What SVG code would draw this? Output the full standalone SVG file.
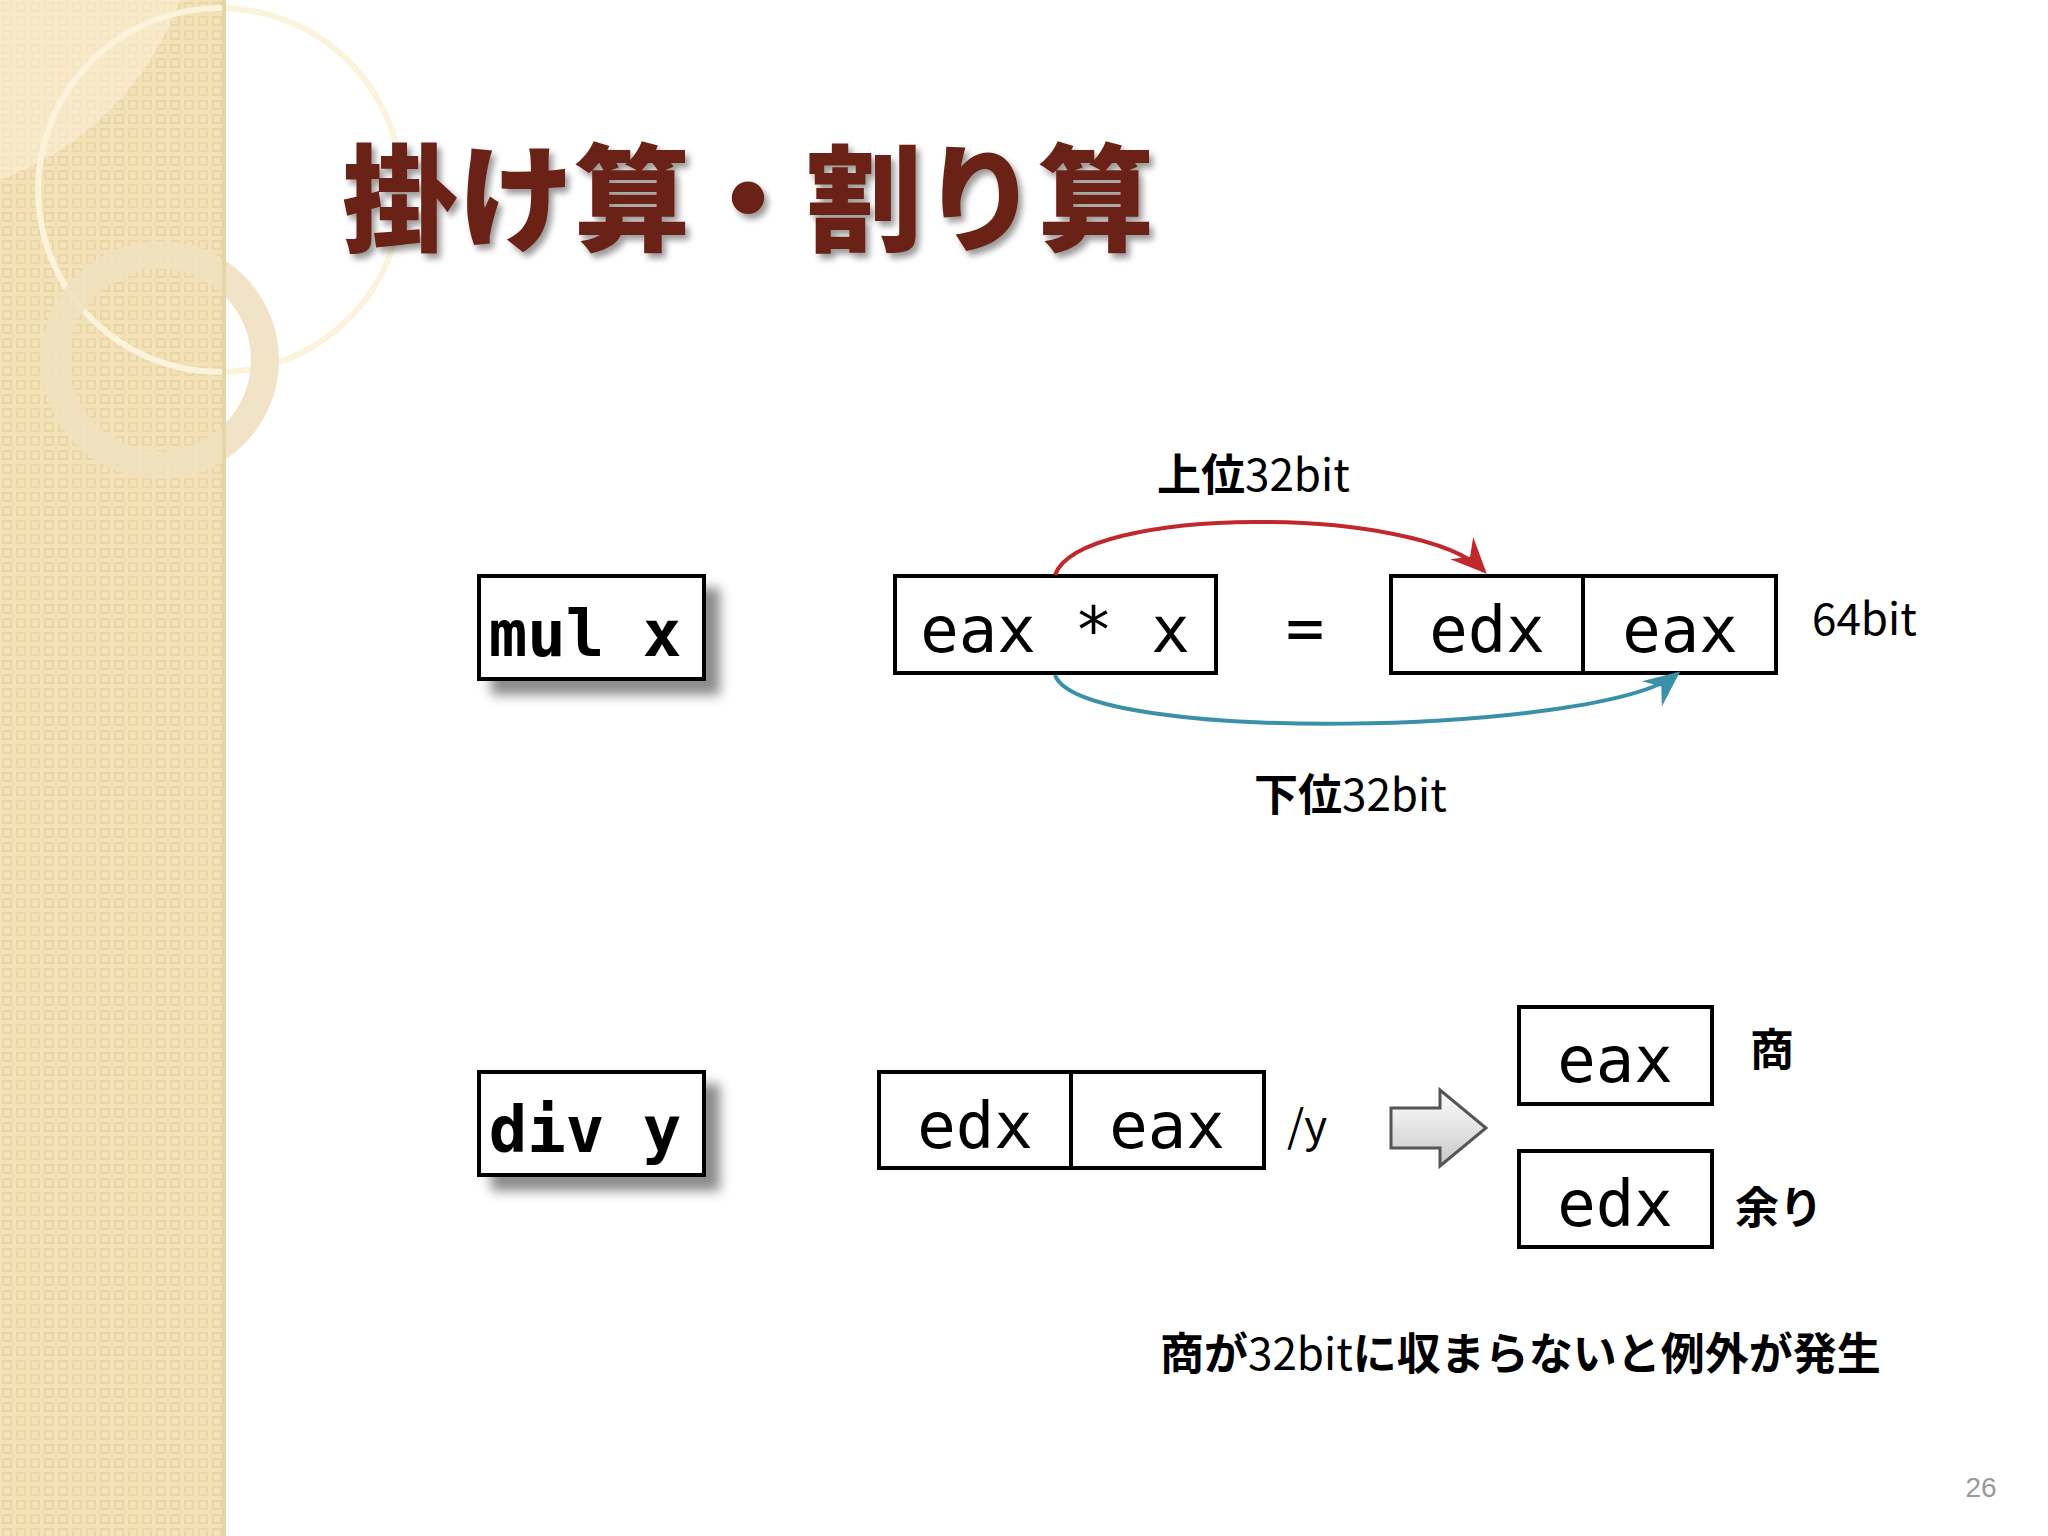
<svg xmlns="http://www.w3.org/2000/svg" width="2048" height="1536" viewBox="0 0 2048 1536">
<defs>
<style>
.box{fill:#fff;stroke:#000;stroke-width:4}
.t{font-family:"DejaVu Sans Mono","Liberation Mono",monospace;font-size:64px;fill:#000;text-anchor:middle}
.j{font-family:"Noto Sans CJK JP",sans-serif;font-weight:bold;font-size:44px;fill:#000}
.b{font-family:"Noto Sans CJK JP",sans-serif;font-size:44px;fill:#000}
</style>
<pattern id="pt" width="14" height="14" patternUnits="userSpaceOnUse"><rect width="14" height="14" fill="#f3e2b8"/><rect x="3" y="3" width="8" height="8" fill="none" stroke="#e8d3a0" stroke-width="1.5"/></pattern>
<filter id="sh" x="-20%" y="-20%" width="150%" height="160%"><feDropShadow dx="14" dy="14" stdDeviation="6" flood-color="#000" flood-opacity="0.45"/></filter>
<filter id="ts" x="-5%" y="-10%" width="115%" height="130%"><feDropShadow dx="4" dy="5" stdDeviation="3" flood-color="#000" flood-opacity="0.4"/></filter>
<marker id="ar" markerWidth="10" markerHeight="10" refX="8" refY="5" orient="auto" markerUnits="strokeWidth"><path d="M0,1 L9,5 L0,9 L3,5z" fill="#c0282c"/></marker>
<marker id="ab" markerWidth="10" markerHeight="10" refX="8" refY="5" orient="auto" markerUnits="strokeWidth"><path d="M0,1 L9,5 L0,9 L3,5z" fill="#3a90a8"/></marker>
<linearGradient id="ga" x1="0" y1="0" x2="0" y2="1"><stop offset="0" stop-color="#fff"/><stop offset="1" stop-color="#c8c8c8"/></linearGradient>
</defs>
<rect width="2048" height="1536" fill="#fff"/>
<g id="sidebar">
<rect width="226" height="1536" fill="url(#pt)"/>
<path d="M0,0 H180 A300,300 0 0 1 0,180 Z" fill="#fbf0d6" opacity="0.6"/>
<circle cx="220" cy="190" r="182" fill="none" stroke="#fbf3dc" stroke-width="6"/>
<circle cx="160" cy="360" r="105" fill="none" stroke="#efe1c0" stroke-width="28" opacity="0.9"/>
<rect x="222" width="4" height="1536" fill="#e6d4a8"/>
</g>
<text id="title" x="342" y="242" font-family="Noto Sans CJK JP,sans-serif" font-weight="900" font-size="116" fill="#6b2416" filter="url(#ts)">掛け算・割り算</text>
<g id="mul"><rect class="box" x="479" y="576" width="225" height="103" filter="url(#sh)"/><text class="t" x="585" y="656" font-weight="bold">mul x</text></g>
<g id="div"><rect class="box" x="479" y="1072" width="225" height="103" filter="url(#sh)"/><text class="t" x="585" y="1152" font-weight="bold">div y</text></g>
<g id="eaxx"><rect class="box" x="895" y="576" width="321" height="97"/><text class="t" x="1055" y="652">eax * x</text></g>
<text class="t" x="1305" y="650">=</text>
<g id="edxeax"><rect class="box" x="1391" y="576" width="385" height="97"/><line x1="1583" y1="576" x2="1583" y2="673" stroke="#000" stroke-width="4"/><text class="t" x="1487" y="652">edx</text><text class="t" x="1680" y="652">eax</text></g>
<text class="b" x="1812" y="635">64bit</text>
<g id="connectors">
<path d="M1055,575 C1080,505 1420,505 1484,571" fill="none" stroke="#c0282c" stroke-width="4" marker-end="url(#ar)"/>
<path d="M1055,675 C1080,745 1600,735 1677,674" fill="none" stroke="#3a90a8" stroke-width="4" marker-end="url(#ab)"/>
</g>
<text class="j" x="1157" y="491">上位<tspan font-weight="normal">32bit</tspan></text>
<text class="j" x="1254" y="811">下位<tspan font-weight="normal">32bit</tspan></text>
<g id="dividend"><rect class="box" x="879" y="1072" width="385" height="96"/><line x1="1071" y1="1072" x2="1071" y2="1168" stroke="#000" stroke-width="4"/><text class="t" x="975" y="1148">edx</text><text class="t" x="1167" y="1148">eax</text></g>
<text class="b" x="1287" y="1142" font-size="62" font-weight="normal">/y</text>
<path id="blockarrow" d="M1391,1108 H1440 V1090 L1486,1128 L1440,1166 V1148 H1391 Z" fill="url(#ga)" stroke="#555" stroke-width="3"/>
<g id="q"><rect class="box" x="1519" y="1007" width="193" height="97"/><text class="t" x="1615" y="1082">eax</text></g>
<text class="j" x="1750" y="1066">商</text>
<g id="r"><rect class="box" x="1519" y="1151" width="193" height="96"/><text class="t" x="1615" y="1226">edx</text></g>
<text class="j" x="1735" y="1224">余り</text>
<text class="j" x="1160" y="1370">商が<tspan font-weight="normal">32bit</tspan>に収まらないと例外が発生</text>
<text x="1981" y="1497" font-family="Liberation Sans,sans-serif" font-size="28" fill="#999" text-anchor="middle">26</text>
</svg>
